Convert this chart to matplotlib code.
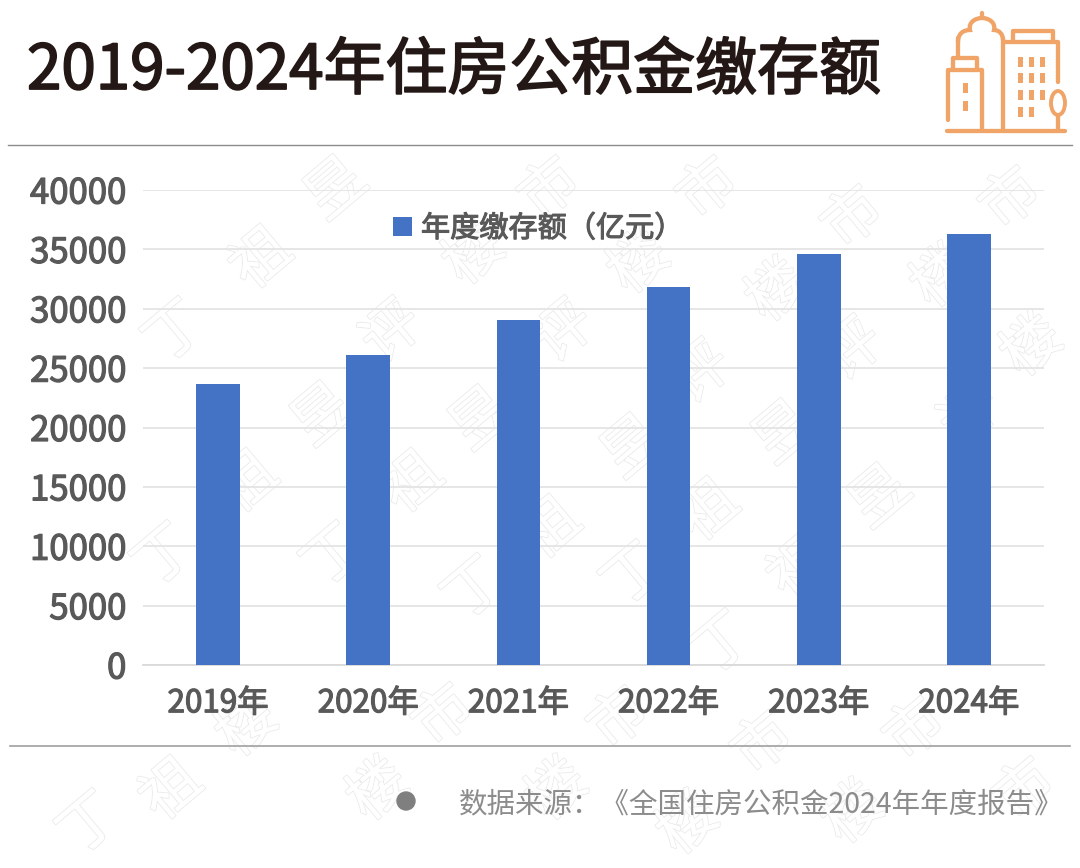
import matplotlib
matplotlib.use("Agg")
import matplotlib.pyplot as plt
import matplotlib.patheffects as pe
from matplotlib.patches import Circle, Ellipse, PathPatch, Rectangle
from matplotlib.path import Path

plt.rcParams["font.family"] = ["Noto Sans CJK SC", "DejaVu Sans"]

years = ["2019年", "2020年", "2021年", "2022年", "2023年", "2024年"]
amounts = [23700, 26100, 29050, 31850, 34600, 36300]
y_ticks = [0, 5000, 10000, 15000, 20000, 25000, 30000, 35000, 40000]

W, H = 1080, 868
BLUE = "#4472c4"
ORANGE = "#f0a468"
GREY = "#595959"

fig = plt.figure(figsize=(W / 100, H / 100), dpi=100, facecolor="white")

# pixel overlay for title, rules, icon, watermark and footer
bg = fig.add_axes([0, 0, 1, 1], zorder=0)
bg.set_xlim(0, W)
bg.set_ylim(H, 0)
bg.axis("off")

# watermark: hollow rotated characters, placed by eye
wm_marks = {
    "丁": [(176, 333), (165, 557), (334, 557), (475, 590), (634, 576), (723, 645), (90, 825)],
    "祖": [(262, 260), (248, 484), (413, 484), (551, 530), (709, 512), (172, 791), (800, 570)],
    "昱": [(337, 190), (324, 416), (482, 420), (634, 448), (785, 434), (881, 498)],
    "评": [(393, 333), (565, 333), (702, 374), (854, 351), (971, 415)],
    "楼": [(475, 255), (640, 264), (778, 292), (943, 278), (1033, 347), (379, 791), (558, 791),
           (689, 825), (854, 814), (248, 727)],
    "市": [(551, 190), (709, 190), (854, 219), (1012, 200), (445, 717), (620, 720), (764, 745),
           (916, 731), (1026, 791)],
}
for ch, spots in wm_marks.items():
    for wx, wy in spots:
        bg.text(wx, wy, ch, fontsize=42, rotation=40, ha="center", va="center", color="white",
                zorder=1, path_effects=[pe.withStroke(linewidth=1.5, foreground="#ececec"), pe.Normal()])

# regular weight plus a thin stroke stands in for the medium weight of the original
def thicken(artist, width, colour):
    artist.set_path_effects([pe.withStroke(linewidth=width, foreground=colour)])

title = bg.text(27, 71, "2019-2024年住房公积金缴存额", fontsize=44.6, color="#231815",
                ha="left", va="center")
thicken(title, 1.3, "#231815")
bg.plot([8, 1072], [145, 145], color="#8c8c8c", lw=1)
bg.plot([10, 1070], [746, 746], color="#a0a0a0", lw=1.2)

# footer
bg.add_patch(Circle((406, 801), 9, color="#7f7f7f"))
bg.text(459, 804, "数据来源：《全国住房公积金2024年年度报告》", fontsize=20.5, color="#8c8c8c",
        ha="left", va="center")

# building icon
lw = 3.1
def seg(xs, ys):
    bg.plot(xs, ys, color=ORANGE, lw=lw, solid_capstyle="round", solid_joinstyle="round")

seg([947, 1065], [131, 131])
seg([948, 948, 982, 982], [120, 70, 70, 130])
seg([953, 953, 977, 977], [70, 58, 58, 68])
seg([958, 958], [58, 38])
seg([1003, 1003], [38, 130])
seg([1003, 1058, 1058], [42, 42, 82])
seg([1013, 1013, 1053, 1053], [40, 31, 31, 40])
dome = Path([(958, 42), (958, 33), (964, 30), (970, 30),
             (968, 22), (976, 18), (982, 18),
             (988, 18), (996, 22), (994, 30),
             (999, 30), (1003, 34), (1003, 40)],
            [Path.MOVETO] + [Path.CURVE4] * 12)
bg.add_patch(PathPatch(dome, fill=False, edgecolor=ORANGE, lw=lw, capstyle="round"))
seg([982, 982], [13, 18])
for wx in (1020, 1031, 1042):
    for wy in (62, 78, 95, 112):
        if not (wx == 1042 and wy == 112):
            bg.add_patch(Rectangle((wx - 2.5, wy - 5), 5, 10, color=ORANGE, lw=0))
for wy in (88, 106):
    bg.add_patch(Rectangle((962.5, wy - 5), 5, 10, color=ORANGE, lw=0))
seg([1058, 1058], [115, 130])
bg.add_patch(Ellipse((1058, 103), 14, 24, fill=False, edgecolor=ORANGE, lw=2.8))

# chart
ax = fig.add_axes([143 / W, 1 - 665 / H, 901 / W, 475 / H], zorder=2)
ax.patch.set_alpha(0)
ax.bar(years, amounts, width=0.29, color=BLUE, zorder=3, label="年度缴存额（亿元）")
ax.set_xlim(-0.5, 5.5)
ax.set_ylim(0, 40000)
ax.set_yticks(y_ticks)
ax.grid(axis="y", color="#e4e4e4", lw=1.3, zorder=0)
ax.tick_params(axis="both", length=0, labelcolor=GREY)
ax.tick_params(axis="y", labelsize=25, pad=12)
ax.tick_params(axis="x", labelsize=22.6, pad=16)
for lab in ax.get_xticklabels() + ax.get_yticklabels():
    thicken(lab, 0.9, GREY)
for side in ("top", "right", "left"):
    ax.spines[side].set_visible(False)
ax.spines["bottom"].set_color("#d9d9d9")
ax.spines["bottom"].set_linewidth(1.3)
leg = ax.legend(loc="upper left", bbox_to_anchor=(0.248, 1.005), frameon=False, handlelength=0.65,
                handleheight=0.65, handletextpad=0.32, prop={"size": 21}, labelcolor=GREY)
for t in leg.get_texts():
    thicken(t, 0.8, GREY)

fig.savefig("out.png", dpi=100)
